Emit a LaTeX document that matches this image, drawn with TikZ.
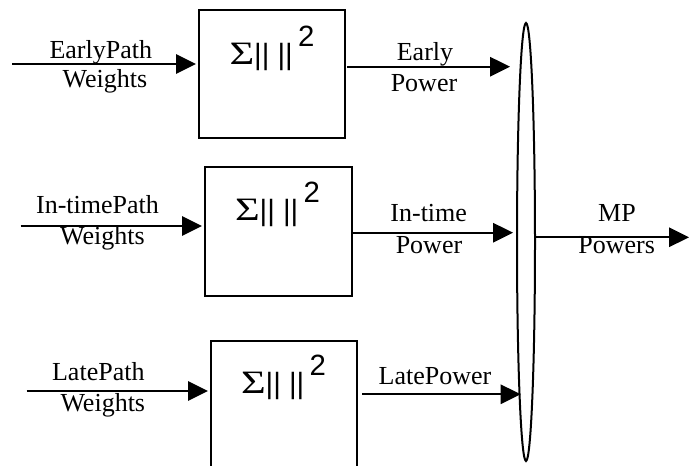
\documentclass[tikz,border=0pt]{standalone}
\usepackage{graphicx}
\usepackage{fontspec}
\setmainfont{Liberation Serif}
\newfontfamily\arialf{Liberation Sans}
\usetikzlibrary{arrows.meta,shapes.geometric}
\newcommand\sumsqtext{\scalebox{1.3}[1]{\rmfamily\fontsize{24.5}{26}\selectfont Σ}|| ||\kern4pt\raisebox{13.5pt}{2}}
\begin{document}
\begin{tikzpicture}[x=0.75pt,y=-0.75pt,
  lw/.style={line width=1.5pt},
  sumbox/.style={draw,lw,minimum width=109.5pt,minimum height=96pt,inner sep=0pt},
  lbl/.style={font=\fontsize{19.5}{22}\selectfont,inner sep=0pt,anchor=base},
  sig/.style={font=\arialf\fontsize{22}{26}\selectfont,inner sep=0pt,anchor=base},
  flow/.style={lw,-{Triangle[length=15pt,width=14.5pt]}},
  muxshape/.style={draw,line width=1.5pt,ellipse,minimum width=13.5pt,minimum height=328.5pt,inner sep=0pt}
]
\clip (0,0) rectangle (689,466);

% boxes
\node[sumbox] (b1) at (272,74) {};
\node[sumbox,minimum width=110.25pt,minimum height=96.75pt] (b2) at (278.5,231.5) {};
\node[sumbox] (b3) at (284,405) {};
\node[sig] (s1) at (272,65) {\sumsqtext};
\node[sig] (s2) at (277.5,221) {\sumsqtext};
\node[sig] (s3) at (283.5,393.5) {\sumsqtext};

% combiner
\node[muxshape] (mux) at (526,242) {};

% inputs
\coordinate (i1) at (12,64);
\coordinate (i2) at (20.7,226);
\coordinate (i3) at (26.7,391);
\draw[flow,shorten >=1.5pt] (i1) -- (i1 -| b1.west);
\draw[flow,shorten >=1.5pt] (i2) -- (i2 -| b2.west);
\draw[flow,shorten >=1.5pt] (i3) -- (i3 -| b3.west);

% outputs
\coordinate (o1) at (510,66.7);
\coordinate (o2) at (513,232.7);
\coordinate (o3) at (520.7,394.3);
\draw[flow,shorten <=1pt] (b1.east |- o1) -- (o1);
\draw[flow] (b2.east |- o2) -- (o2);
\draw[flow,shorten <=3pt] (b3.east |- o3) -- (o3);

\coordinate (mp) at (689,237.3);
\draw[flow] (mux.east |- mp) -- (mp);

% labels
\node[lbl] (l1a) at (100.8,58.3) {EarlyPath};
\node[lbl] (l1b) at (105,88) {Weights};
\node[lbl] (l2a) at (97.5,214) {In-timePath};
\node[lbl] (l2b) at (102.5,245) {Weights};
\node[lbl] (l3a) at (98.3,381) {LatePath};
\node[lbl] (l3b) at (102.8,411.7) {Weights};
\node[lbl] (r1a) at (425,60.7) {Early};
\node[lbl] (r1b) at (424,91.7) {Power};
\node[lbl] (r2a) at (428.7,221.7) {In-time};
\node[lbl] (r2b) at (429,253.3) {Power};
\node[lbl] (r3) at (435,385) {LatePower};
\node[lbl] (mpa) at (617,221.7) {MP};
\node[lbl] (mpb) at (616.7,253.3) {Powers};
\end{tikzpicture}
\end{document}
